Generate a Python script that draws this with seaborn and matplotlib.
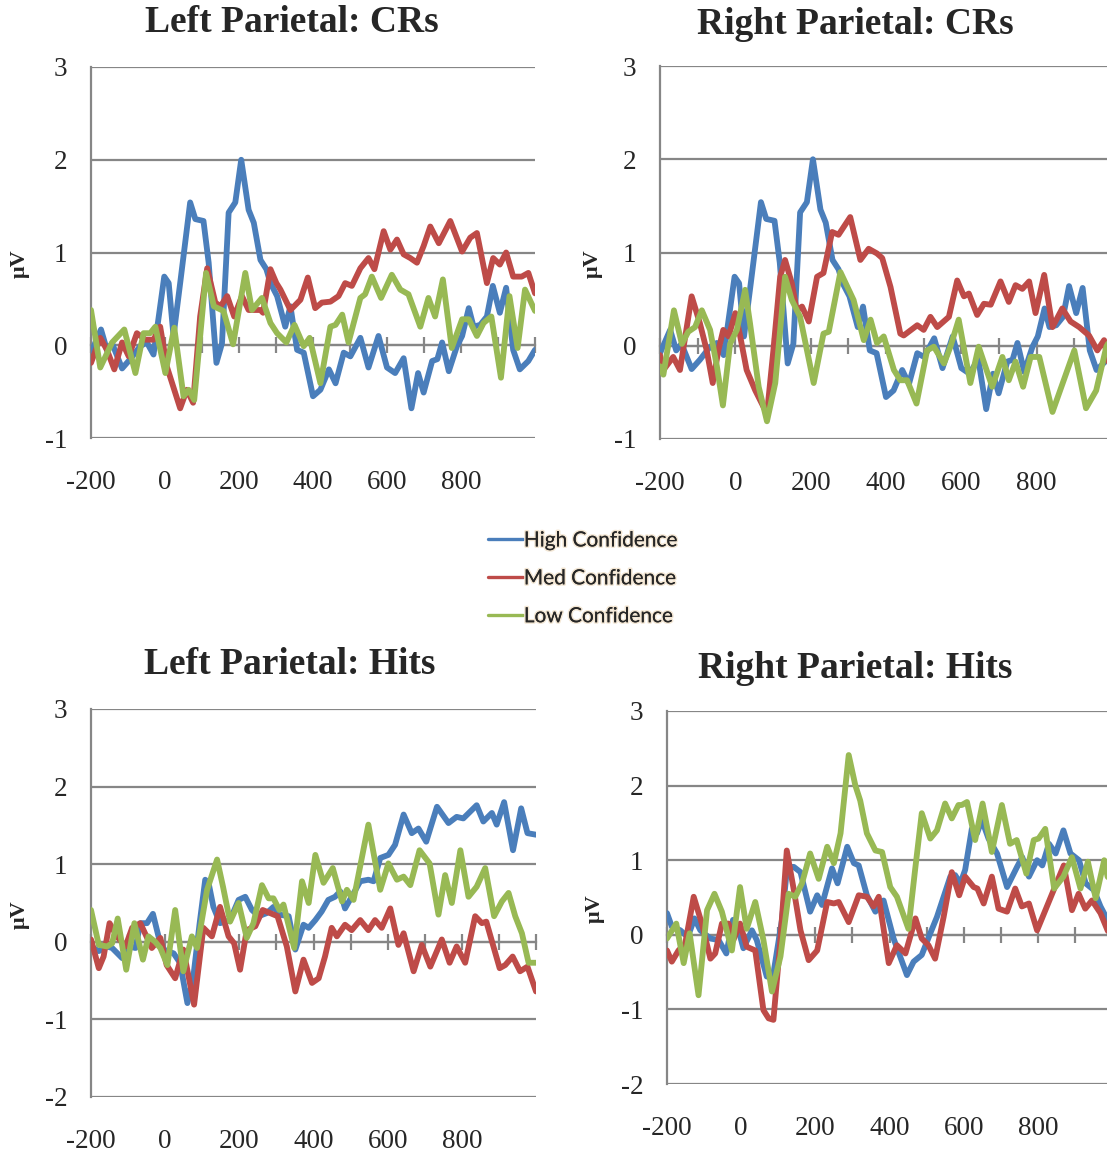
import numpy as np
import pandas as pd
import matplotlib
matplotlib.use("Agg")
import matplotlib.pyplot as plt
import matplotlib.patheffects as pe
import seaborn as sns

# ERP traces (time in ms, amplitude in microvolts), turning points
# --- Left Parietal: CRs
tl_hi_t = [-200, -173, -157, -143, -116, -94, -67, -49, -31, -2, 10, 23, 41, 68, 82, 104, 118, 139, 154, 172,
           190, 206, 226, 240, 258, 274, 285, 303, 325, 339, 357, 375, 400, 420, 443, 461, 483, 501, 528, 550,
           577, 600, 622, 645, 666, 684, 699, 722, 736, 749, 767, 789, 803, 821, 834, 852, 870, 886, 905, 922,
           941, 959, 982, 1000]
tl_hi_v = [-0.08, 0.17, -0.05, 0.02, -0.25, -0.15, -0.01, 0.03, -0.1, 0.74, 0.67, 0.1, 0.67, 1.54, 1.36, 1.34,
           0.89, -0.19, 0.02, 1.43, 1.54, 2.0, 1.46, 1.32, 0.92, 0.82, 0.67, 0.53, 0.2, 0.42, -0.05, -0.08, -0.55,
           -0.48, -0.26, -0.41, -0.08, -0.12, 0.08, -0.24, 0.1, -0.24, -0.3, -0.14, -0.68, -0.3, -0.51, -0.17,
           -0.15, 0.03, -0.28, -0.01, 0.1, 0.4, 0.2, 0.22, 0.31, 0.64, 0.35, 0.62, -0.05, -0.26, -0.17, -0.05]
tl_med_t = [-200, -175, -157, -137, -116, -98, -76, -53, -31, -13, 5, 41, 59, 76, 95, 114, 136, 150, 168, 187,
            208, 226, 258, 265, 285, 301, 312, 339, 366, 386, 406, 424, 447, 469, 487, 505, 528, 550, 566, 591,
            609, 627, 645, 663, 681, 699, 717, 740, 771, 803, 825, 843, 870, 887, 905, 922, 941, 964, 982, 1000]
tl_med_v = [-0.19, 0.08, -0.05, -0.26, 0.03, -0.12, 0.13, 0.06, 0.06, 0.2, -0.23, -0.68, -0.48, -0.62, 0.31,
            0.83, 0.46, 0.42, 0.53, 0.31, 0.53, 0.38, 0.38, 0.35, 0.82, 0.67, 0.6, 0.38, 0.49, 0.73, 0.4, 0.46,
            0.47, 0.53, 0.67, 0.64, 0.83, 0.94, 0.82, 1.23, 1.03, 1.14, 0.98, 0.94, 0.89, 1.07, 1.28, 1.1, 1.34,
            1.01, 1.16, 1.21, 0.67, 0.94, 0.87, 1.0, 0.74, 0.74, 0.78, 0.56]
tl_low_t = [-200, -175, -143, -110, -80, -58, -40, -26, 1, 25, 50, 64, 79, 111, 132, 158, 184, 217, 235, 262,
            285, 303, 328, 350, 375, 391, 420, 447, 461, 479, 496, 528, 541, 559, 584, 613, 636, 658, 690, 712,
            730, 751, 775, 803, 821, 843, 861, 882, 908, 931, 953, 973, 1000]
tl_low_v = [0.38, -0.24, 0.03, 0.17, -0.3, 0.13, 0.13, 0.2, -0.3, 0.19, -0.55, -0.48, -0.59, 0.78, 0.42, 0.37,
            0.01, 0.78, 0.38, 0.51, 0.24, 0.13, 0.03, 0.22, -0.01, 0.08, -0.41, 0.2, 0.22, 0.33, 0.03, 0.51, 0.55,
            0.74, 0.51, 0.76, 0.6, 0.55, 0.2, 0.51, 0.31, 0.71, -0.03, 0.28, 0.28, 0.1, 0.24, 0.31, -0.35, 0.53,
            -0.03, 0.6, 0.37]

# --- Right Parietal: CRs (high-confidence trace is the same as on the left)
tr_hi_t = tl_hi_t
tr_hi_v = tl_hi_v
tr_med_t = [-200, -191, -165, -147, -116, -94, -76, -60, -45, -32, -18, 0, 13, 30, 53, 84, 101, 119, 132, 150,
            163, 177, 195, 217, 234, 257, 274, 305, 332, 354, 376, 390, 412, 438, 447, 483, 500, 518, 536, 567,
            589, 607, 620, 642, 660, 678, 704, 726, 744, 762, 780, 797, 820, 842, 868, 890, 913, 939, 961, 979,
            1000]
tr_med_v = [-0.1, -0.26, -0.12, -0.26, 0.53, 0.24, -0.05, -0.4, -0.05, 0.17, 0.1, 0.35, 0.1, -0.26, -0.48,
            -0.73, -0.05, 0.74, 0.92, 0.67, 0.38, 0.42, 0.26, 0.74, 0.78, 1.22, 1.19, 1.38, 0.92, 1.04, 0.99, 0.94,
            0.63, 0.13, 0.11, 0.22, 0.17, 0.31, 0.2, 0.31, 0.7, 0.53, 0.56, 0.33, 0.45, 0.44, 0.69, 0.47, 0.65,
            0.61, 0.69, 0.35, 0.76, 0.2, 0.4, 0.26, 0.2, 0.11, -0.05, 0.06, -0.4]
tr_low_t = [-200, -191, -163, -142, -125, -107, -89, -67, -49, -33, -14, 4, 26, 39, 62, 84, 106, 132, 150, 172,
            208, 234, 248, 279, 314, 341, 359, 376, 394, 421, 438, 456, 481, 509, 527, 554, 571, 593, 624, 646,
            682, 709, 726, 744, 764, 784, 807, 842, 900, 931, 958, 985, 1000]
tr_low_v = [-0.22, -0.31, 0.38, 0.02, 0.15, 0.2, 0.38, 0.17, -0.22, -0.64, 0.02, 0.17, 0.6, 0.24, -0.44, -0.81,
            -0.4, 0.74, 0.49, 0.31, -0.4, 0.13, 0.15, 0.79, 0.49, 0.06, 0.28, 0.03, 0.1, -0.26, -0.37, -0.37, -0.62,
            -0.05, -0.01, -0.19, -0.01, 0.28, -0.4, -0.01, -0.44, -0.12, -0.37, -0.17, -0.44, -0.12, -0.12, -0.71,
            -0.05, -0.67, -0.48, -0.01, 0.1]

# --- Left Parietal: Hits
bl_hi_t = [-200, -179, -157, -143, -116, -98, -80, -67, -49, -33, -18, -4, 23, 40, 60, 76, 93, 108, 117, 130,
           148, 175, 198, 216, 234, 252, 274, 292, 308, 333, 351, 373, 387, 405, 422, 440, 458, 472, 485, 503,
           526, 548, 562, 580, 602, 620, 643, 665, 683, 704, 733, 764, 786, 804, 840, 858, 881, 894, 914, 938,
           960, 977, 1000]
bl_hi_v = [-0.06, -0.12, -0.06, -0.08, -0.21, -0.06, -0.08, 0.24, 0.24, 0.36, 0.07, -0.1, -0.15, -0.27, -0.79,
           -0.45, 0.24, 0.8, 0.76, 0.45, 0.24, 0.28, 0.54, 0.58, 0.41, 0.33, 0.37, 0.45, 0.35, 0.33, -0.1, 0.22,
           0.18, 0.28, 0.39, 0.54, 0.58, 0.65, 0.43, 0.58, 0.78, 0.8, 0.78, 1.08, 1.12, 1.25, 1.64, 1.4, 1.46,
           1.29, 1.74, 1.53, 1.61, 1.59, 1.76, 1.55, 1.66, 1.51, 1.8, 1.18, 1.72, 1.4, 1.38]
bl_med_t = [-200, -179, -166, -150, -130, -107, -89, -67, -36, -13, 4, 27, 49, 78, 103, 126, 148, 171, 186,
            202, 220, 243, 263, 283, 303, 328, 351, 373, 396, 414, 431, 449, 463, 485, 503, 526, 548, 566, 584,
            607, 629, 643, 670, 692, 715, 746, 767, 786, 809, 836, 854, 866, 902, 917, 937, 957, 977, 1000]
bl_med_v = [0.03, -0.34, -0.19, 0.24, 0.07, -0.06, 0.18, 0.24, -0.08, 0.05, -0.3, -0.47, -0.1, -0.81, 0.18,
            0.07, 0.45, 0.07, -0.02, -0.36, 0.15, 0.2, 0.41, 0.37, 0.33, -0.06, -0.64, -0.23, -0.53, -0.47, -0.19,
            0.18, 0.07, 0.22, 0.15, 0.28, 0.15, 0.28, 0.18, 0.43, -0.04, 0.11, -0.38, -0.04, -0.32, 0.03, -0.27,
            -0.06, -0.27, 0.33, 0.24, 0.26, -0.34, -0.3, -0.19, -0.38, -0.32, -0.64]
bl_low_t = [-200, -179, -157, -143, -128, -105, -83, -60, -45, -27, -13, 6, 27, 49, 72, 86, 113, 140, 156, 175,
            198, 220, 238, 261, 279, 292, 308, 319, 348, 369, 387, 405, 427, 452, 477, 490, 508, 548, 580, 602,
            625, 643, 661, 686, 713, 737, 755, 773, 796, 818, 840, 863, 887, 908, 926, 944, 962, 980, 1000]
bl_low_v = [0.41, -0.04, -0.06, -0.02, 0.3, -0.36, 0.24, -0.23, 0.07, 0.0, -0.08, -0.3, 0.41, -0.38, 0.07,
            -0.08, 0.67, 1.06, 0.71, 0.26, 0.5, 0.05, 0.24, 0.73, 0.56, 0.56, 0.41, 0.48, -0.08, 0.78, 0.5, 1.12,
            0.76, 0.95, 0.52, 0.67, 0.54, 1.51, 0.67, 1.01, 0.8, 0.84, 0.73, 1.18, 1.01, 0.35, 0.86, 0.5, 1.18,
            0.58, 0.71, 0.95, 0.33, 0.52, 0.63, 0.33, 0.11, -0.27, -0.27]

# --- Right Parietal: Hits
br_hi_t = [-200, -187, -164, -144, -126, -110, -83, -61, -40, -22, -7, 6, 29, 42, 69, 87, 110, 124, 142, 160,
           186, 205, 218, 245, 260, 286, 304, 317, 339, 362, 384, 411, 447, 465, 487, 510, 528, 546, 564, 577,
           591, 604, 622, 636, 649, 667, 690, 717, 744, 758, 776, 798, 812, 830, 848, 869, 888, 911, 929, 951,
           969, 988, 1000]
br_hi_v = [0.29, 0.11, 0.06, -0.03, 0.22, 0.06, -0.05, -0.07, -0.25, 0.2, 0.06, -0.18, 0.06, -0.07, -0.56,
           -0.52, 0.2, 0.91, 0.91, 0.84, 0.31, 0.53, 0.4, 0.89, 0.69, 1.18, 0.96, 0.93, 0.53, 0.31, 0.46, -0.05,
           -0.54, -0.36, -0.27, 0.02, 0.24, 0.51, 0.78, 0.8, 0.69, 0.87, 1.42, 1.36, 1.54, 1.29, 1.09, 0.64,
           0.91, 1.04, 0.78, 1.0, 0.93, 1.22, 1.09, 1.4, 1.09, 1.0, 0.69, 0.6, 0.38, 0.2, 0.1]
br_med_t = [-200, -187, -169, -151, -128, -106, -83, -70, -52, -34, -21, -3, 15, 38, 60, 74, 87, 105, 123, 142,
            160, 182, 205, 232, 250, 263, 290, 317, 339, 357, 371, 398, 420, 443, 470, 487, 505, 523, 546, 568,
            588, 604, 627, 637, 654, 676, 694, 717, 739, 757, 776, 798, 870, 892, 910, 928, 946, 969, 988, 1000]
br_med_v = [-0.21, -0.36, -0.21, -0.12, 0.51, 0.15, -0.32, -0.25, 0.15, 0.15, -0.07, 0.15, -0.16, -0.21,
            -1.01, -1.12, -1.14, -0.12, 1.13, 0.6, 0.06, -0.34, -0.21, 0.44, 0.42, 0.44, 0.17, 0.53, 0.51, 0.38,
            0.51, -0.38, -0.14, -0.25, 0.22, -0.05, -0.14, -0.32, 0.24, 0.84, 0.53, 0.78, 0.64, 0.62, 0.42, 0.78,
            0.35, 0.31, 0.62, 0.38, 0.42, 0.06, 0.93, 0.33, 0.55, 0.35, 0.46, 0.29, 0.06, -0.05]
br_low_t = [-200, -175, -155, -139, -115, -92, -72, -52, -25, -3, 15, 38, 60, 83, 106, 128, 146, 164, 186, 209,
            232, 250, 268, 290, 308, 321, 339, 362, 380, 402, 420, 451, 469, 487, 510, 528, 550, 568, 586, 595,
            609, 631, 651, 676, 703, 725, 743, 769, 789, 802, 820, 844, 869, 892, 915, 935, 956, 979, 988, 1000]
br_low_v = [-0.05, 0.15, -0.38, 0.02, -0.81, 0.33, 0.55, 0.31, -0.21, 0.64, 0.08, 0.44, -0.07, -0.76, -0.29,
            0.55, 0.51, 0.69, 1.09, 0.75, 1.18, 0.96, 1.36, 2.41, 2.0, 1.8, 1.36, 1.13, 1.11, 0.64, 0.51, 0.08,
            0.87, 1.63, 1.29, 1.4, 1.76, 1.56, 1.74, 1.74, 1.78, 1.27, 1.76, 1.11, 1.74, 1.22, 1.27, 0.82, 1.27,
            1.29, 1.42, 0.62, 0.78, 1.04, 0.62, 0.98, 0.49, 1.0, 0.78, 0.7]

labels = ["High Confidence", "Med Confidence", "Low Confidence"]
colors = ["#4a7ebb", "#be4b48", "#98b954"]
xtick_labels = [-200, 0, 200, 400, 600, 800]

panels = [
    ("Left Parietal: CRs", (tl_hi_t, tl_hi_v), (tl_med_t, tl_med_v), (tl_low_t, tl_low_v), -1),
    ("Right Parietal: CRs", (tr_hi_t, tr_hi_v), (tr_med_t, tr_med_v), (tr_low_t, tr_low_v), -1),
    ("Left Parietal: Hits", (bl_hi_t, bl_hi_v), (bl_med_t, bl_med_v), (bl_low_t, bl_low_v), -2),
    ("Right Parietal: Hits", (br_hi_t, br_hi_v), (br_med_t, br_med_v), (br_low_t, br_low_v), -2),
]

sns.set_style("white")
plt.rcParams["font.family"] = ["Liberation Serif", "DejaVu Serif"]
plt.rcParams["axes.unicode_minus"] = False

W, H = 1107, 1154
fig = plt.figure(figsize=(W / 100, H / 100), dpi=100)

# axes boxes in pixels: left, top, right, bottom (right column runs off the page)
boxes = [(91, 67, 535, 438), (660, 66, 1112, 439), (91, 709, 536, 1097), (667, 711, 1112, 1084)]
title_pos = [(292, 22), (855, 25), (290, 664), (855, 669)]
ylab_x = [-0.137, -0.126, -0.137, -0.14]
grid_c = "#868686"

for (title, hi, med, low, ymin), (l, t, r, b), (tx, ty), lx in zip(panels, boxes, title_pos, ylab_x):
    ax = fig.add_axes([l / W, 1 - b / H, (r - l) / W, (b - t) / H])
    for (xs, ys), lab, c in zip([hi, med, low], labels, colors):
        df = pd.DataFrame({"t": xs, "v": ys})
        sns.lineplot(data=df, x="t", y="v", color=c, lw=4.2, ax=ax, label=lab, legend=False,
                     zorder=3, solid_joinstyle="round", solid_capstyle="round")
    ax.set_xlim(-200, 1000)
    ax.set_ylim(ymin, 3)
    ax.set_yticks(range(ymin, 4))
    ax.set_xticks(xtick_labels)
    ax.yaxis.grid(True, color=grid_c, lw=1.6)
    ax.xaxis.grid(False)
    for s in ["top", "right", "bottom"]:
        ax.spines[s].set_visible(False)
    ax.spines["left"].set_color(grid_c)
    ax.spines["left"].set_linewidth(1.6)
    ax.tick_params(axis="y", length=7, width=1.6, color=grid_c, labelsize=19.5, pad=10)
    ax.tick_params(axis="x", length=0, labelsize=19.5, pad=23)
    ax.set_xlabel("")
    ax.set_ylabel("μV", fontsize=16, fontweight="bold")
    ax.yaxis.set_label_coords(lx, 0.47)

    # zero line carries the 100 ms tick marks
    zero = ax.secondary_xaxis(-ymin / (3 - ymin))
    zero.set_xticks(range(-200, 1001, 100))
    zero.tick_params(direction="inout", length=12, width=1.6, color=grid_c, labelbottom=False)
    zero.spines["bottom"].set_color(grid_c)
    zero.spines["bottom"].set_linewidth(1.6)

    fig.text(tx / W, 1 - ty / H, title, ha="center", va="center", fontsize=27, fontweight="bold")

handles = ax.get_lines()[:3]
leg = fig.legend(handles, labels, loc="upper left", bbox_to_anchor=(478 / W, 1 - 520 / H),
                 frameon=False, handlelength=1.65, handletextpad=0.05, labelspacing=0.86,
                 borderpad=0, prop={"family": "Lato", "size": 15})
for line in leg.get_lines():
    line.set_linewidth(2.4)
for txt in leg.get_texts():
    txt.set_path_effects([pe.withStroke(linewidth=2.2, foreground="#f3e6d3"), pe.Normal()])

fig.savefig("out.png", dpi=100)
